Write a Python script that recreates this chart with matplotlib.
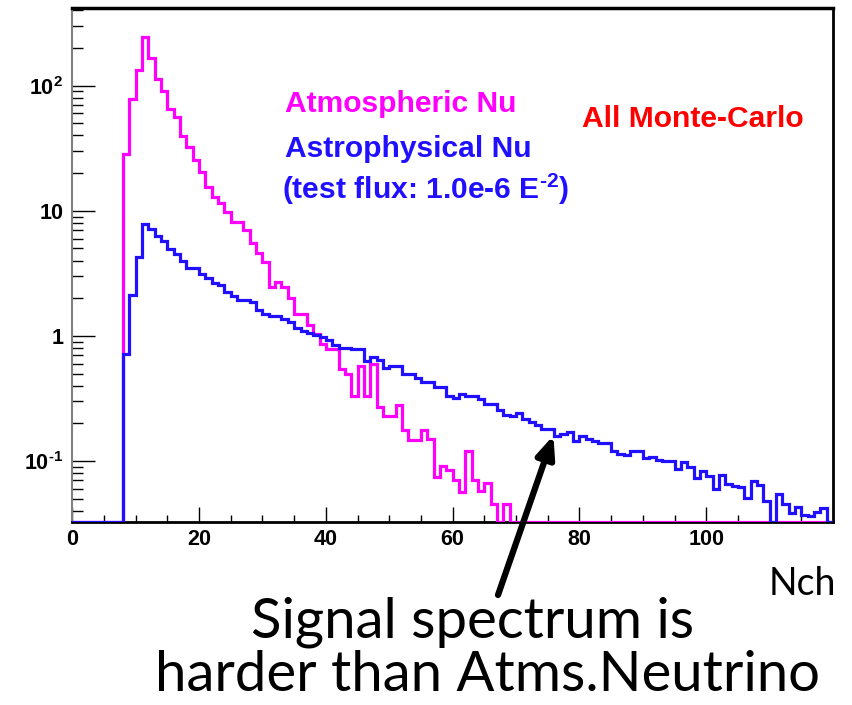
import numpy as np
import matplotlib
matplotlib.use("Agg")
import matplotlib.pyplot as plt
from matplotlib.ticker import FixedLocator, FixedFormatter

plt.rcParams['mathtext.fontset'] = 'custom'
plt.rcParams['mathtext.rm'] = 'Liberation Sans:bold'
plt.rcParams['mathtext.bf'] = 'Liberation Sans:bold'
plt.rcParams['mathtext.it'] = 'Liberation Sans:bold'

# bin edges: unit bins from 0 to 120 (Nch)
edges = np.arange(0, 121)

# atmospheric neutrino histogram, bins 8..68 (rest empty)
atmo_start = 8
atmo_vals = [28.4, 78, 133, 247, 166, 113, 91, 65, 56, 39.6,
             32.5, 25.5, 20.3, 15.6, 12.8, 11.6, 9.8, 8.2, 8.1, 7.0,
             5.5, 4.56, 3.9, 2.47, 2.7, 2.47, 2.0, 1.49, 1.49, 1.22,
             1.03, 0.86, 0.78, 0.78, 0.54, 0.50, 0.33, 0.575, 0.33, 0.60,
             0.27, 0.229, 0.229, 0.279, 0.176, 0.147, 0.147, 0.176, 0.15, 0.0745,
             0.091, 0.084, 0.070, 0.056, 0.12, 0.070, 0.058, 0.067, 0.045, 0,
             0.045]

# astrophysical neutrino histogram (test flux 1e-6 E^-2), bins 8..119
astro_start = 8
astro_vals = [0.72, 2.14, 4.3, 7.9, 7.1, 6.3, 5.7, 4.97, 4.5, 3.97,
              3.5, 3.5, 3.13, 2.89, 2.64, 2.53, 2.24, 2.1, 1.95, 1.95,
              1.86, 1.6, 1.5, 1.43, 1.43, 1.37, 1.30, 1.15, 1.1, 1.05,
              1.02, 0.98, 0.93, 0.85, 0.80, 0.80, 0.78, 0.78, 0.63, 0.675,
              0.64, 0.555, 0.57, 0.57, 0.50, 0.50, 0.457, 0.43, 0.425, 0.39,
              0.39, 0.33, 0.32, 0.34, 0.33, 0.33, 0.31, 0.286, 0.286, 0.257,
              0.234, 0.23, 0.24, 0.217, 0.204, 0.195, 0.18, 0.18, 0.158, 0.163,
              0.17, 0.145, 0.158, 0.15, 0.145, 0.14, 0.14, 0.12, 0.114, 0.112,
              0.121, 0.121, 0.105, 0.107, 0.102, 0.1, 0.1, 0.086, 0.098, 0.089,
              0.073, 0.083, 0.076, 0.06, 0.077, 0.065, 0.063, 0.0615, 0.051, 0.069,
              0.064, 0.048, 0, 0.054, 0.045, 0.0386, 0.043, 0.037, 0.036, 0.039,
              0.042, 0]

x_ticks = [0, 20, 40, 60, 80, 100]
x_ticklabels = ['0', '20', '40', '60', '80', '100']
y_ticks = [0.1, 1, 10, 100]
y_ticklabels = [r'$10^{\text{-1}}$', '1', '10', r'$10^{2}$']
ymin, ymax = 0.0325, 422


def fill_hist(start, vals):
    h = np.zeros(len(edges) - 1)
    h[start:start + len(vals)] = vals
    # empty bins are drawn on the bottom of the frame, like ROOT does
    h[h <= 0] = ymin
    return h


atmo = fill_hist(atmo_start, atmo_vals)
astro = fill_hist(astro_start, astro_vals)

W, H = 853, 705
fig = plt.figure(figsize=(W / 100, H / 100), dpi=100)
ax = fig.add_axes([72.3 / W, 1 - 522 / H, (833 - 72.3) / W, (522 - 7.5) / H])


def px(x, y):
    return x / W, 1 - y / H


ax.stairs(atmo, edges, baseline=None, color='#ff00ff', lw=2.3, zorder=3)
ax.stairs(astro, edges, baseline=None, color='#2010ff', lw=2.3, zorder=3.1)

ax.set_yscale('log')
ax.set_xlim(0, 120)
ax.set_ylim(ymin, ymax)

ax.xaxis.set_major_locator(FixedLocator(x_ticks))
ax.xaxis.set_major_formatter(FixedFormatter(x_ticklabels))
ax.xaxis.set_minor_locator(FixedLocator(np.arange(0, 120, 5)))
ax.yaxis.set_major_locator(FixedLocator(y_ticks))
ax.yaxis.set_major_formatter(FixedFormatter(y_ticklabels))
minor = [m * 10.0 ** e for e in range(-2, 3) for m in range(2, 10)]
ax.yaxis.set_minor_locator(FixedLocator(minor))
ax.yaxis.set_minor_formatter(FixedFormatter([''] * len(minor)))

ax.tick_params(axis='x', which='major', direction='in', length=10.8, width=1, pad=5,
               top=False, labelsize=15.5)
ax.tick_params(axis='x', which='minor', direction='in', length=5, width=1, top=False)
ax.tick_params(axis='y', which='major', direction='in', length=16.5, width=1, pad=6.5,
               right=False, labelsize=15.5)
ax.tick_params(axis='y', which='minor', direction='in', length=8, width=1, right=False)
for lab in ax.get_xticklabels() + ax.get_yticklabels():
    lab.set_fontfamily('Liberation Sans')
    lab.set_fontweight('bold')

ax.spines['left'].set_color('#808080')
ax.spines['left'].set_linewidth(1.5)
ax.spines['bottom'].set_linewidth(2)
ax.spines['top'].set_linewidth(2.5)
ax.spines['right'].set_linewidth(2)

lab_font = dict(family='Liberation Sans', weight='bold', fontsize=21.6, ha='left', va='baseline')
fig.text(*px(285, 112), 'Atmospheric Nu', color='#ff00ff', **lab_font)
fig.text(*px(285, 157), 'Astrophysical Nu', color='#2010ff', **lab_font)
fig.text(*px(282, 199), r'(test flux: 1.0e-6 E$^{\text{-2}}$)', color='#2010ff', **lab_font)
fig.text(*px(582, 127), 'All Monte-Carlo', color='#ff0000', **lab_font)

fig.text(*px(802, 595), 'Nch', family='Lato', fontsize=27, ha='center', va='baseline')
fig.text(*px(473, 637), 'Signal spectrum is', family='Lato', fontsize=40.5,
         ha='center', va='baseline')
fig.text(*px(488, 691), 'harder than Atms.Neutrino', family='Lato', fontsize=40.5,
         ha='center', va='baseline')

# arrow pointing at the signal spectrum
ax.annotate('', xy=(75.9, 0.16), xycoords='data',
            xytext=px(498, 595), textcoords='figure fraction',
            arrowprops=dict(arrowstyle='-|>,head_length=1.3,head_width=0.55',
                            color='black', lw=4.5, shrinkA=0, shrinkB=0),
            annotation_clip=False, zorder=5)

fig.savefig('out.png', dpi=100)
